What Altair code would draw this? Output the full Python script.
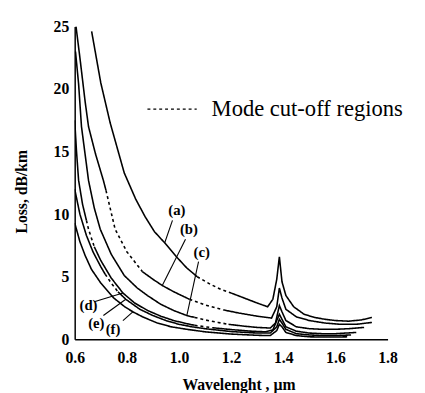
import altair as alt
import pandas as pd

SERIF = "Liberation Serif"

# ---- curves (wavelength in um, loss in dB/km) ----
a_x = [0.665, 0.70, 0.736, 0.79, 0.834, 0.87, 0.906, 0.95, 0.99, 1.03, 1.07, 1.12, 1.16, 1.20, 1.25, 1.30, 1.34, 1.36, 1.375, 1.385, 1.395, 1.41, 1.44, 1.48, 1.52, 1.56, 1.60, 1.65, 1.70, 1.74]
a_y = [24.6, 20.5, 17.3, 13.3, 11.2, 9.8, 8.6, 7.6, 6.6, 5.7, 5.0, 4.4, 4.0, 3.7, 3.3, 2.9, 2.6, 3.2, 4.8, 6.6, 4.6, 3.5, 2.6, 2.0, 1.75, 1.6, 1.5, 1.45, 1.55, 1.75]
a_dash = [(1.07, 1.20)]

b_x = [0.605, 0.62, 0.64, 0.653, 0.68, 0.71, 0.72, 0.755, 0.80, 0.86, 0.90, 0.936, 0.98, 1.04, 1.10, 1.17, 1.23, 1.30, 1.355, 1.375, 1.385, 1.395, 1.41, 1.45, 1.50, 1.56, 1.62, 1.68, 1.74]
b_y = [25.0, 22.5, 19.0, 17.0, 14.8, 12.7, 11.9, 8.8, 7.0, 5.4, 4.8, 4.3, 3.8, 3.2, 2.75, 2.35, 2.1, 1.85, 1.7, 2.6, 4.1, 3.3, 2.4, 1.8, 1.5, 1.3, 1.2, 1.2, 1.35]
b_dash = [(0.72, 0.86), (1.04, 1.17)]

c_x = [0.603, 0.615, 0.626, 0.653, 0.675, 0.698, 0.74, 0.79, 0.84, 0.879, 0.93, 0.98, 1.03, 1.06, 1.10, 1.15, 1.19, 1.25, 1.30, 1.35, 1.37, 1.385, 1.395, 1.41, 1.45, 1.50, 1.55, 1.60, 1.65, 1.71]
c_y = [23.0, 20.4, 17.0, 12.7, 10.5, 8.8, 6.8, 5.1, 4.1, 3.5, 2.8, 2.3, 1.9, 1.75, 1.55, 1.35, 1.2, 1.05, 0.95, 0.9, 1.3, 2.7, 2.2, 1.5, 1.0, 0.85, 0.8, 0.8, 0.85, 0.95]
c_dash = [(1.06, 1.19)]

d_x = [0.600, 0.607, 0.615, 0.63, 0.645, 0.653, 0.675, 0.70, 0.74, 0.785, 0.83, 0.88, 0.93, 0.98, 1.03, 1.06, 1.10, 1.13, 1.20, 1.27, 1.33, 1.36, 1.385, 1.395, 1.41, 1.45, 1.50, 1.55, 1.60, 1.68]
d_y = [17.5, 15.0, 12.7, 10.8, 9.5, 8.8, 7.4, 6.3, 4.9, 3.7, 2.9, 2.3, 1.85, 1.5, 1.25, 1.12, 1.0, 0.92, 0.78, 0.66, 0.6, 0.75, 2.0, 1.6, 1.0, 0.65, 0.5, 0.45, 0.45, 0.55]
d_dash = [(0.645, 0.675), (1.06, 1.13)]

e_x = [0.600, 0.62, 0.645, 0.67, 0.70, 0.717, 0.74, 0.766, 0.796, 0.85, 0.90, 0.95, 1.00, 1.05, 1.10, 1.20, 1.30, 1.35, 1.375, 1.385, 1.395, 1.41, 1.45, 1.50, 1.55, 1.60, 1.66]
e_y = [12.0, 10.0, 8.3, 7.0, 5.8, 5.2, 4.5, 3.8, 3.2, 2.4, 1.9, 1.5, 1.2, 1.0, 0.85, 0.62, 0.5, 0.5, 1.0, 1.6, 1.3, 0.8, 0.45, 0.35, 0.3, 0.3, 0.35]
e_dash = [(0.717, 0.766)]

f_x = [0.600, 0.604, 0.62, 0.64, 0.664, 0.70, 0.75, 0.792, 0.823, 0.86, 0.917, 0.97, 1.03, 1.10, 1.20, 1.30, 1.35, 1.375, 1.385, 1.395, 1.41, 1.45, 1.50, 1.55, 1.60, 1.645]
f_y = [9.3, 9.0, 7.8, 6.7, 5.6, 4.5, 3.3, 2.6, 2.2, 1.8, 1.3, 1.0, 0.8, 0.6, 0.42, 0.32, 0.3, 0.7, 1.2, 1.0, 0.55, 0.3, 0.2, 0.18, 0.18, 0.2]
f_dash = []

curves = {
    "a": (a_x, a_y, a_dash),
    "b": (b_x, b_y, b_dash),
    "c": (c_x, c_y, c_dash),
    "d": (d_x, d_y, d_dash),
    "e": (e_x, e_y, e_dash),
    "f": (f_x, f_y, f_dash),
}

# curve labels and leader lines
lab_text = ["(a)", "(b)", "(c)", "(d)", "(e)", "(f)"]
lab_x = [0.992, 1.038, 1.087, 0.653, 0.683, 0.747]
lab_y = [10.3, 8.8, 7.0, 2.75, 1.33, 0.8]
lead_x = [0.975, 1.025, 1.075, 0.675, 0.71, 0.785]
lead_y = [9.5, 8.0, 6.2, 3.0, 1.9, 1.5]
lead_x2 = [0.945, 0.936, 1.03, 0.785, 0.796, 0.823]
lead_y2 = [7.7, 4.3, 1.9, 3.7, 3.2, 2.2]

legend_text = "Mode cut-off regions"

x_ticks = [0.6, 0.8, 1.0, 1.2, 1.4, 1.6, 1.8]
y_ticks = [0, 5, 10, 15, 20, 25]

# ---- build long table of segments ----
rows = []
seg_id = 0
for name, (xs_, ys_, dashes) in curves.items():
    cur = None
    for i in range(len(xs_) - 1):
        m = (xs_[i] + xs_[i + 1]) / 2
        st = "dashed" if any(lo <= m <= hi for lo, hi in dashes) else "solid"
        if st != cur:
            seg_id += 1
            cur = st
            rows.append(dict(x=xs_[i], y=ys_[i], seg=seg_id, style=st, curve=name, o=i))
        rows.append(dict(x=xs_[i + 1], y=ys_[i + 1], seg=seg_id, style=st, curve=name, o=i + 1))
df = pd.DataFrame(rows)

labels = pd.DataFrame(dict(t=lab_text, x=lab_x, y=lab_y))
leaders = pd.DataFrame(dict(x=lead_x, y=lead_y, x2=lead_x2, y2=lead_y2))
leg_line = pd.DataFrame(dict(x=[0.879], x2=[1.068], y=[18.4]))
leg_text = pd.DataFrame(dict(t=[legend_text], x=[1.125], y=[18.4]))

xs = alt.Scale(domain=[0.6, 1.8], nice=False, zero=False)
ys = alt.Scale(domain=[0, 25], nice=False)

x_axis = alt.Axis(values=x_ticks, format=".1f", grid=False, ticks=False, labelFlush=False,
                  domainColor="black", domainWidth=1.5,
                  labelFont=SERIF, labelFontSize=16, labelFontWeight="bold", labelColor="black",
                  labelPadding=11, title="Wavelenght , µm", titleFont=SERIF, titleFontSize=16,
                  titleFontWeight="bold", titleColor="black", titleX=167, titleY=46,
                  titleAlign="center", titleBaseline="middle")
y_axis = alt.Axis(values=y_ticks, format="d", grid=False, ticks=False, labelFlush=False,
                  domainColor="black", domainWidth=1.5,
                  labelFont=SERIF, labelFontSize=16, labelFontWeight="bold", labelColor="black",
                  labelPadding=6, title="Loss, dB/km", titleFont=SERIF, titleFontSize=16,
                  titleFontWeight="bold", titleColor="black", titleX=-54, titleY=168,
                  titleAngle=270, titleAlign="center", titleBaseline="middle")

lines = alt.Chart(df).mark_line(color="black", strokeWidth=1.6, clip=True).encode(
    x=alt.X("x:Q", scale=xs, axis=x_axis),
    y=alt.Y("y:Q", scale=ys, axis=y_axis),
    detail="seg:N",
    order="o:Q",
    strokeDash=alt.StrokeDash("style:N", scale=alt.Scale(domain=["solid", "dashed"], range=[[1, 0], [3, 3]]), legend=None),
)

lab = alt.Chart(labels).mark_text(font=SERIF, fontSize=15, fontWeight="bold", color="black").encode(
    x=alt.X("x:Q", scale=xs), y=alt.Y("y:Q", scale=ys), text="t:N")

lead = alt.Chart(leaders).mark_rule(color="black", strokeWidth=1.1).encode(
    x=alt.X("x:Q", scale=xs), y=alt.Y("y:Q", scale=ys), x2="x2:Q", y2="y2:Q")

legl = alt.Chart(leg_line).mark_rule(color="black", strokeWidth=1.2, strokeDash=[3, 3]).encode(
    x=alt.X("x:Q", scale=xs), x2="x2:Q", y=alt.Y("y:Q", scale=ys))

legt = alt.Chart(leg_text).mark_text(font=SERIF, fontSize=23, color="black", align="left", baseline="middle").encode(
    x=alt.X("x:Q", scale=xs), y=alt.Y("y:Q", scale=ys), text="t:N")

chart = alt.layer(lines, lead, lab, legl, legt).properties(
    width=319, height=319,
    autosize=alt.AutoSizeParams(type="none"),
    padding={"left": 68, "top": 15, "right": 30, "bottom": 55},
).configure_view(stroke=None)

chart.save("out.html", embed_options={"renderer": "svg", "actions": False})
